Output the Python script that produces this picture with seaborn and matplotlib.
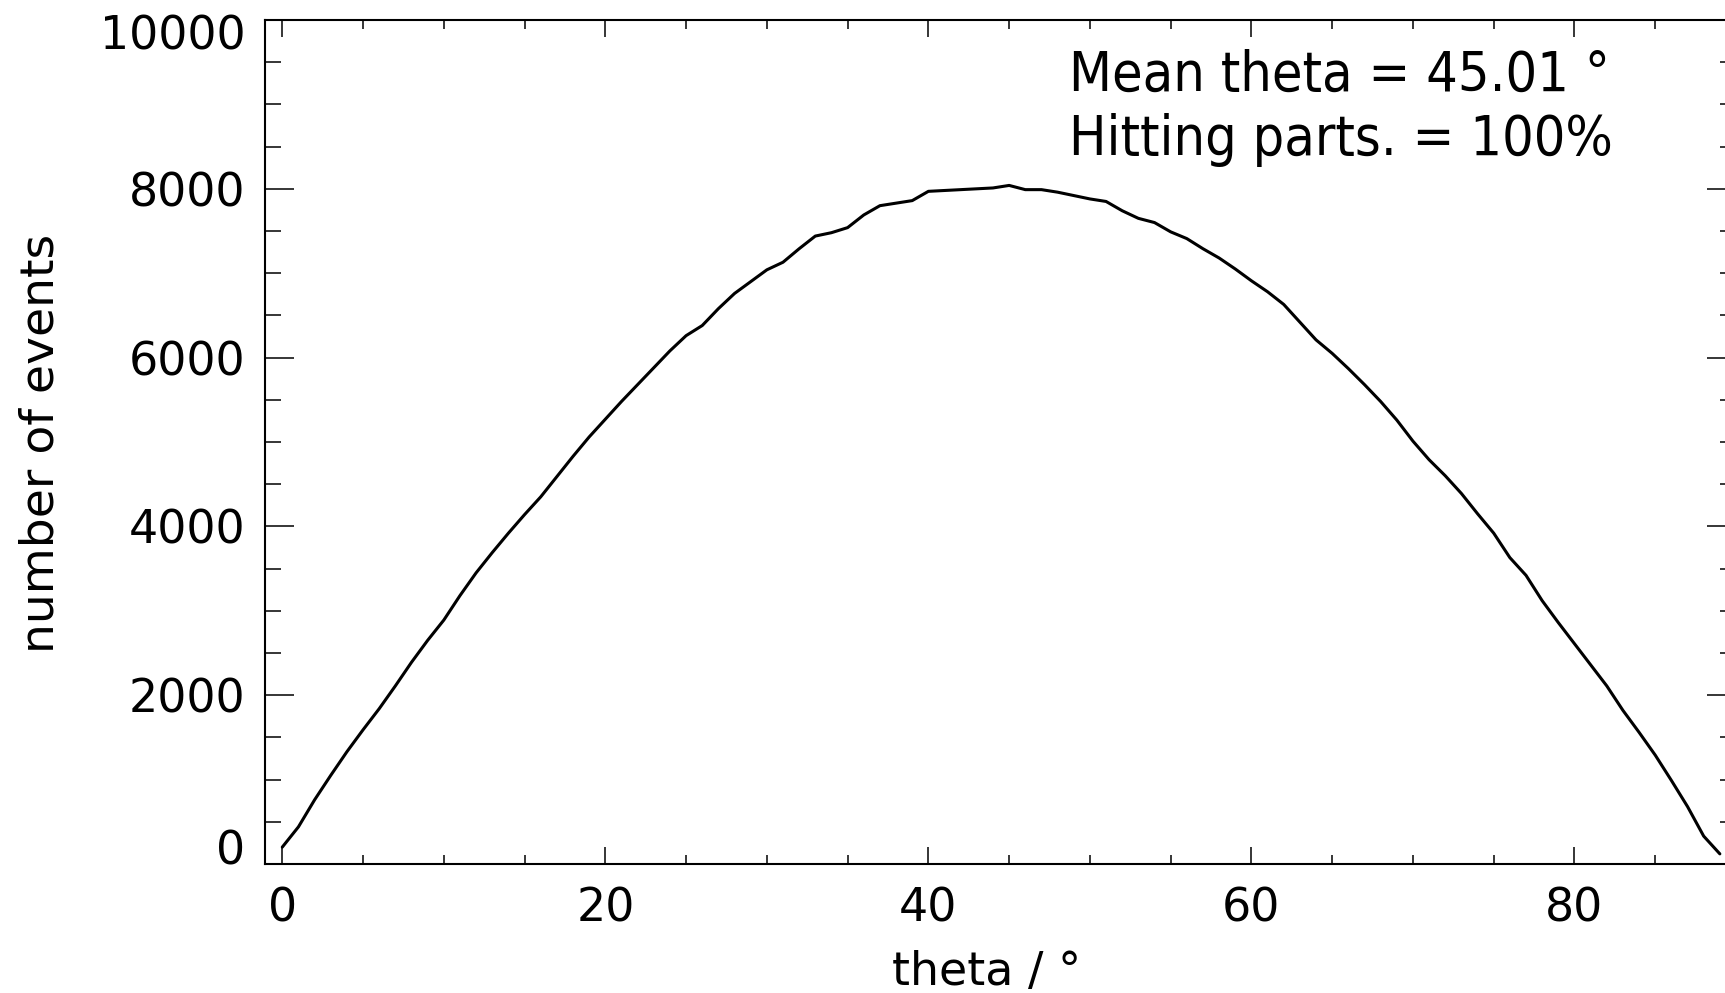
import matplotlib
matplotlib.use("Agg")
import matplotlib.pyplot as plt
import matplotlib.transforms as mtransforms
from matplotlib.ticker import MultipleLocator
import seaborn as sns
import pandas as pd

# Polar angle of each event, in degrees (1 degree bins)
theta_deg = list(range(0, 90))

# Number of events in each theta bin
event_counts = [
    200, 440, 760, 1050, 1330, 1590, 1840, 2110, 2390, 2650,
    2890, 3180, 3450, 3690, 3920, 4140, 4350, 4590, 4830, 5060,
    5270, 5480, 5680, 5880, 6080, 6260, 6380, 6580, 6760, 6900,
    7040, 7130, 7290, 7440, 7480, 7540, 7690, 7800, 7830, 7860,
    7970, 7980, 7990, 8000, 8010, 8040, 7990, 7990, 7960, 7920,
    7880, 7850, 7740, 7650, 7600, 7490, 7410, 7290, 7180, 7050,
    6910, 6780, 6630, 6420, 6210, 6050, 5870, 5680, 5480, 5260,
    5010, 4790, 4600, 4390, 4150, 3920, 3630, 3420, 3120, 2860,
    2610, 2360, 2110, 1820, 1560, 1290, 990, 680, 330, 120,
]

x_ticks = [0, 20, 40, 60, 80]
y_ticks = [0, 2000, 4000, 6000, 8000, 10000]

mean_theta = 45.01
hitting_fraction = 100

sns.set_style("ticks")
plt.rcParams["font.family"] = ["DejaVu Sans"]

df = pd.DataFrame({"theta": theta_deg, "events": event_counts})

W, H = 1725, 993
fig = plt.figure(figsize=(W / 100, H / 100), dpi=100)
fig.patch.set_facecolor("white")
ax = fig.add_axes([265 / W, 129 / H, 1471 / W, 844 / H])

sns.lineplot(data=df, x="theta", y="events", color="black", linewidth=2.2, ax=ax)

ax.set_xlim(-1.07, 90)
ax.set_ylim(0, 10000)
ax.set_xticks(x_ticks)
ax.set_yticks(y_ticks)
ax.xaxis.set_minor_locator(MultipleLocator(5))
ax.yaxis.set_minor_locator(MultipleLocator(500))
ax.set_xlabel("")
ax.set_ylabel("")

for side in ["left", "right", "top", "bottom"]:
    ax.spines[side].set_visible(True)
    ax.spines[side].set_color("black")
    ax.spines[side].set_linewidth(1.5)

ax.tick_params(axis="both", which="both", direction="in", color="black", width=1.1,
               top=True, right=True, labelcolor="black")
ax.tick_params(axis="x", which="major", length=12.2, pad=16, labelsize=33)
ax.tick_params(axis="x", which="minor", length=6.5)
ax.tick_params(axis="y", which="major", length=21, pad=14, labelsize=33)
ax.tick_params(axis="y", which="minor", length=11.5)
ax.set_xticklabels([str(v) for v in x_ticks])
ax.set_yticklabels([str(v) for v in y_ticks])

# nudge the end labels of the y axis inward
fig.canvas.draw()
yt = ax.yaxis.get_major_ticks()
yt[0].label1.set_transform(yt[0].label1.get_transform() +
                           mtransforms.ScaledTranslation(0, 17 / 100, fig.dpi_scale_trans))
yt[-1].label1.set_transform(yt[-1].label1.get_transform() +
                            mtransforms.ScaledTranslation(0, -12 / 100, fig.dpi_scale_trans))

fig.text(41 / W, 1 - 443 / H, "number of events", rotation=90, ha="center", va="center",
         fontsize=34, color="black")
fig.text(987 / W, 1 - 985 / H, "theta / °", ha="center", va="baseline",
         fontsize=33, color="black")

fig.text(1069 / W, 1 - 91 / H, f"Mean theta = {mean_theta:.2f} °", ha="left", va="baseline",
         fontsize=40, fontstretch="condensed", color="black")
fig.text(1069 / W, 1 - 155 / H, f"Hitting parts. = {hitting_fraction}%", ha="left", va="baseline",
         fontsize=40, fontstretch="condensed", color="black")

fig.savefig("out.png", dpi=100, facecolor="white")
